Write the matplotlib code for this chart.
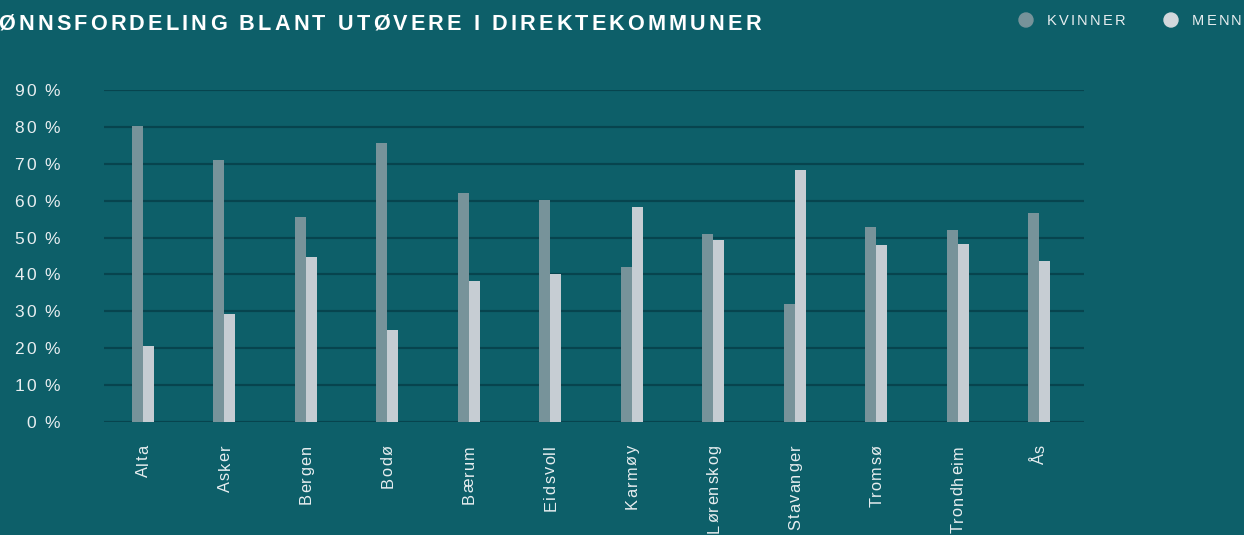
import numpy as np
import matplotlib
matplotlib.use("Agg")
import matplotlib.pyplot as plt
from matplotlib.transforms import IdentityTransform

kommuner = ["Alta", "Asker", "Bergen", "Bodø", "Bærum", "Eidsvoll", "Karmøy",
            "Lørenskog", "Stavanger", "Tromsø", "Trondheim", "Ås"]
kvinner = [80.2, 71.0, 55.6, 75.6, 62.0, 60.2, 42.0, 50.9, 32.0, 52.8, 52.0, 56.6]
menn = [20.6, 29.3, 44.7, 24.9, 38.2, 40.1, 58.3, 49.3, 68.3, 48.0, 48.2, 43.6]
yticks = [0, 10, 20, 30, 40, 50, 60, 70, 80, 90]
# the reference image is cropped: only this part of the title is visible
tittel = "ØNNSFORDELING BLANT UTØVERE I DIREKTEKOMMUNER"

BG = "#0d5f69"
C_KV = "#77939a"
C_ME = "#c6cdd3"
GRID = "#07444e"
W, H = 1244, 535

plt.rcParams["font.family"] = ["Liberation Sans", "DejaVu Sans"]

fig = plt.figure(figsize=(W / 100, H / 100), dpi=100, facecolor=BG)
ax = fig.add_axes([104 / W, 113 / H, 980 / W, 332 / H], facecolor=BG)

x = np.arange(len(kommuner))
bw = 0.135
ax.bar(x - bw, kvinner, bw, align="edge", color=C_KV, zorder=3)
ax.bar(x, menn, bw, align="edge", color=C_ME, zorder=3)

ax.set_xlim(-0.479, 11.55)
ax.set_ylim(0, 90)
ax.set_yticks(yticks)
ax.grid(axis="y", color=GRID, lw=1.6, zorder=1)
ax.tick_params(left=False, bottom=False, labelleft=False, labelbottom=False)
for s in ax.spines.values():
    s.set_visible(False)

renderer = fig.canvas.get_renderer()


def text_w(s, **kw):
    t = fig.text(0, 0, s, transform=IdentityTransform(), **kw)
    w = t.get_window_extent(renderer).width
    t.remove()
    return w


def tracked(px, py, s, track, align="left", rotation=0, **kw):
    # px, py in display pixels; letters spaced by "track" extra pixels
    bar_w = text_w("|", **kw)
    offs = [text_w(s[:i] + "|", **kw) - bar_w for i in range(len(s))]
    total = text_w(s + "|", **kw) - bar_w + track * (len(s) - 1)
    if align == "right":
        start = -total
    elif align == "center":
        start = -total / 2
    else:
        start = 0
    for i, ch in enumerate(s):
        d = start + offs[i] + i * track
        if rotation == 90:
            cx, cy = px, py + d
        else:
            cx, cy = px + d, py
        fig.text(cx, cy, ch, transform=IdentityTransform(), rotation=rotation,
                 rotation_mode="anchor", ha="left", va="baseline", **kw)


tracked(761, H - 30, tittel, 3.15, align="right", fontsize=15.6,
        fontweight="bold", color="white")

# legend
fig.add_artist(plt.Circle((1026, H - 20), 7, color=C_KV,
                          transform=IdentityTransform()))
fig.add_artist(plt.Circle((1171, H - 20), 7, color="#d3d8dc",
                          transform=IdentityTransform()))
tracked(1047, H - 25, "KVINNER", 2.2, fontsize=10.5, color="#e8eef0")
tracked(1192, H - 25, "MENN", 2.2, fontsize=10.5, color="#e8eef0")

# y tick labels
for v in yticks:
    _, yy = ax.transData.transform((0, v))
    tracked(60, yy - 6, f"{v} %", 2.0, align="right", fontsize=12.5,
            color="#e8eef0")

# x tick labels (rotated)
for i, k in enumerate(kommuner):
    xx, _ = ax.transData.transform((i, 0))
    tracked(xx + 5, H - 445, k, 1.3, align="right", rotation=90,
            fontsize=11.8, color="#e8eef0")

fig.savefig("out.png", dpi=100, facecolor=BG)
